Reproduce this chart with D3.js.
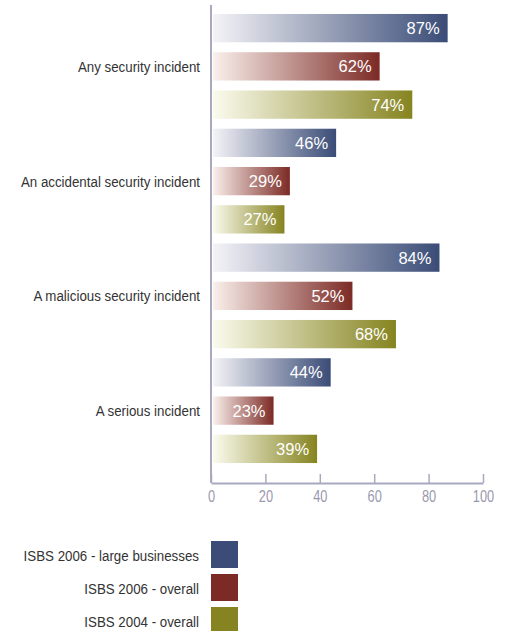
<!DOCTYPE html>
<html>
<head>
<meta charset="utf-8">
<script src="https://cdn.jsdelivr.net/npm/d3@7"></script>
<style>
  body { margin: 0; background: #fff; }
  text { font-family: "Liberation Sans", Arial, sans-serif; }
</style>
</head>
<body>
<div id="chart"></div>
<script>
const categories = [
  "Any security incident",
  "An accidental security incident",
  "A malicious security incident",
  "A serious incident"
];
const seriesNames = [
  "ISBS 2006 - large businesses",
  "ISBS 2006 - overall",
  "ISBS 2004 - overall"
];
const largeBusinesses2006 = [87, 46, 84, 44];
const overall2006 = [62, 29, 52, 23];
const overall2004 = [74, 27, 68, 39];
const ticks = [0, 20, 40, 60, 80, 100];

const seriesValues = [largeBusinesses2006, overall2006, overall2004];
const colors = ["#3a4c77", "#7c2a25", "#868420"];
const lightColors = ["#f4f3f7", "#faf0ec", "#fbfbee"];

// narrow look: squeeze the regular sans horizontally
const narrow = 0.86;

const width = 507, height = 631;
const svg = d3.select("#chart").append("svg")
  .attr("width", width).attr("height", height);

const x = d3.scaleLinear().domain([0, 100]).range([211, 483]);

// one band per bar, groups of three
const rows = [];
categories.forEach((c, ci) => {
  seriesValues.forEach((vals, si) => {
    rows.push({ key: ci + "-" + si, cat: c, ci, si, value: vals[ci] });
  });
});
const y = d3.scaleBand().domain(rows.map(d => d.key)).range([9, 468]).paddingInner(0.26).paddingOuter(0.13);

const defs = svg.append("defs");
colors.forEach((c, i) => {
  const g = defs.append("linearGradient").attr("id", "grad" + i)
    .attr("x1", "0%").attr("x2", "100%").attr("y1", "0%").attr("y2", "0%");
  g.append("stop").attr("offset", "0%").attr("stop-color", lightColors[i]);
  g.append("stop").attr("offset", "100%").attr("stop-color", c);
});

svg.append("g").selectAll("rect")
  .data(rows)
  .join("rect")
  .attr("x", x(0) + 2)
  .attr("y", d => y(d.key))
  .attr("width", d => x(d.value) - x(0) - 2)
  .attr("height", y.bandwidth())
  .attr("fill", d => `url(#grad${d.si})`);

svg.append("g").selectAll("text")
  .data(rows)
  .join("text")
  .attr("x", d => x(d.value) - 8)
  .attr("y", d => y(d.key) + y.bandwidth() / 2)
  .attr("dy", "0.36em")
  .attr("text-anchor", "end")
  .attr("fill", "#fff")
  .attr("font-size", 16.5)
  .text(d => d.value + "%");

// category labels, aligned with middle bar
svg.append("g").selectAll("text")
  .data(categories)
  .join("text")
  .attr("transform", (d, i) => `translate(200,${y(i + "-1") + y.bandwidth() / 2}) scale(${narrow},1)`)
  .attr("dy", "0.36em")
  .attr("text-anchor", "end")
  .attr("fill", "#333")
  .attr("font-size", 15.5)
  .text(d => d);

const axisColor = "#a9a8c2";
// vertical axis line
svg.append("line")
  .attr("x1", x(0)).attr("x2", x(0))
  .attr("y1", 5).attr("y2", 483)
  .attr("stroke", axisColor).attr("stroke-width", 2);

const xAxis = svg.append("g")
  .attr("transform", "translate(0,483)")
  .call(d3.axisBottom(x).tickValues(ticks).tickSize(-9).tickPadding(14).tickSizeOuter(0));
xAxis.select(".domain").attr("stroke", axisColor).attr("stroke-width", 2);
xAxis.selectAll(".tick line").attr("stroke", axisColor).attr("stroke-width", 1.5);
xAxis.selectAll(".tick text")
  .attr("fill", "#9a99ae")
  .attr("font-size", 16)
  .attr("y", 0)
  .attr("dy", 0)
  .attr("transform", `translate(0,19) scale(0.8,1)`);

// legend
const legend = svg.append("g").selectAll("g")
  .data(seriesNames)
  .join("g")
  .attr("transform", (d, i) => `translate(0,${541 + i * 33})`);
legend.append("rect")
  .attr("x", 211).attr("width", 27).attr("height", 27)
  .attr("fill", (d, i) => colors[i]);
legend.append("text")
  .attr("transform", `translate(199,14) scale(${narrow},1)`)
  .attr("dy", "0.36em")
  .attr("text-anchor", "end")
  .attr("fill", "#333")
  .attr("font-size", 15.5)
  .text(d => d);
</script>
</body>
</html>
